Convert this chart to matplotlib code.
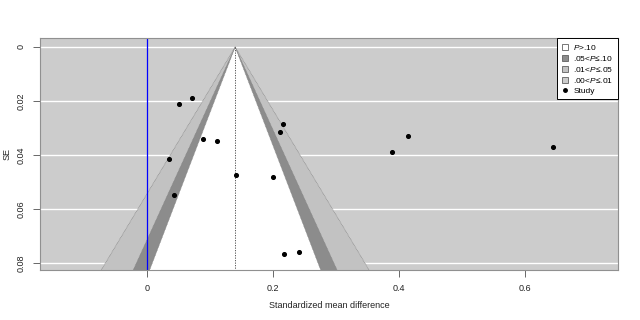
import numpy as np
import matplotlib
matplotlib.use("Agg")
import matplotlib.pyplot as plt
from matplotlib.patches import Patch
from matplotlib.lines import Line2D

plt.rcParams['font.family'] = ['Liberation Sans', 'DejaVu Sans']
plt.rcParams['mathtext.fontset'] = 'custom'
plt.rcParams['mathtext.it'] = 'Liberation Sans:italic'
plt.rcParams['mathtext.rm'] = 'Liberation Sans'

# Study data (standardized mean difference, standard error)
smd = [0.051, 0.071, 0.216, 0.212, 0.089, 0.111, 0.035, 0.141, 0.200, 0.043,
       0.218, 0.241, 0.415, 0.389, 0.645]
se = [0.0211, 0.0190, 0.0286, 0.0315, 0.0342, 0.0349, 0.0414, 0.0474, 0.0480,
      0.0549, 0.0767, 0.0759, 0.0331, 0.0388, 0.0372]
center = 0.14
z_levels = [2.576, 1.96, 1.645]
shade_colors = ['#C2C2C2', '#8C8C8C', 'white']
legend_labels = ['$P$>.10', '.05<$P$≤.10', '.01<$P$≤.05', '.00<$P$≤.01', 'Study']
legend_colors = ['white', '#8C8C8C', '#C2C2C2', '#CCCCCC']
yticks = [0, 0.02, 0.04, 0.06, 0.08]
xticks = [0, 0.2, 0.4, 0.6]

fig = plt.figure(figsize=(6.4, 3.2), dpi=100)
ax = fig.add_axes([0.0625, 0.156, 0.903, 0.725])
ax.set_facecolor('#CCCCCC')
xlim = (-0.17, 0.748)
ylim = (0.0826, -0.0033)
ax.set_xlim(*xlim)
ax.set_ylim(*ylim)

for t in yticks:
    ax.axhline(t, color='white', lw=1.0, zorder=0.5)

ybot = ylim[0]
for z, c in zip(z_levels, shade_colors):
    xs = [center - z * ybot, center, center + z * ybot]
    ys = [ybot, 0, ybot]
    ax.fill(xs, ys, color=c, lw=0, zorder=1)
for z in z_levels:
    ax.plot([center - z * ybot, center, center + z * ybot], [ybot, 0, ybot],
            color='#808080', lw=0.5, ls=(0, (1, 1)), zorder=1.5)

ax.plot([center, center], [0, ybot], color='#404040', lw=0.6, ls=(0, (1.5, 1.5)), zorder=2)
ax.axvline(0, color='#0000FF', lw=0.9, zorder=2)

ax.scatter(smd, se, s=7, color='black', zorder=3)

ax.set_xticks(xticks)
ax.set_xticklabels(['0', '0.2', '0.4', '0.6'])
ax.set_yticks(yticks)
ax.set_yticklabels(['0', '0.02', '0.04', '0.06', '0.08'], rotation=90, va='center')
ax.tick_params(axis='both', labelsize=6.5, length=5, width=0.6, color='#505050',
               labelcolor='#222222', pad=5)
for s in ax.spines.values():
    s.set_color('#909090')
    s.set_linewidth(0.8)
ax.set_xlabel('Standardized mean difference', fontsize=6.5, color='#222222', labelpad=6)
ax.set_ylabel('SE', fontsize=6.5, color='#222222', labelpad=4)

handles = [Patch(facecolor=c, edgecolor='#606060', lw=0.6) for c in legend_colors]
handles.append(Line2D([], [], marker='o', ls='none', color='black', markersize=2.5))
leg = ax.legend(handles, legend_labels, loc='upper right', fontsize=6,
                frameon=True, fancybox=False, borderpad=0.5, handlelength=0.8,
                handleheight=0.8, handletextpad=0.6, labelspacing=0.25,
                borderaxespad=0.05)
leg.get_frame().set_edgecolor('black')
leg.get_frame().set_linewidth(0.7)
leg.get_frame().set_facecolor('white')
leg.get_frame().set_alpha(1)

fig.savefig('out.png', dpi=100)
